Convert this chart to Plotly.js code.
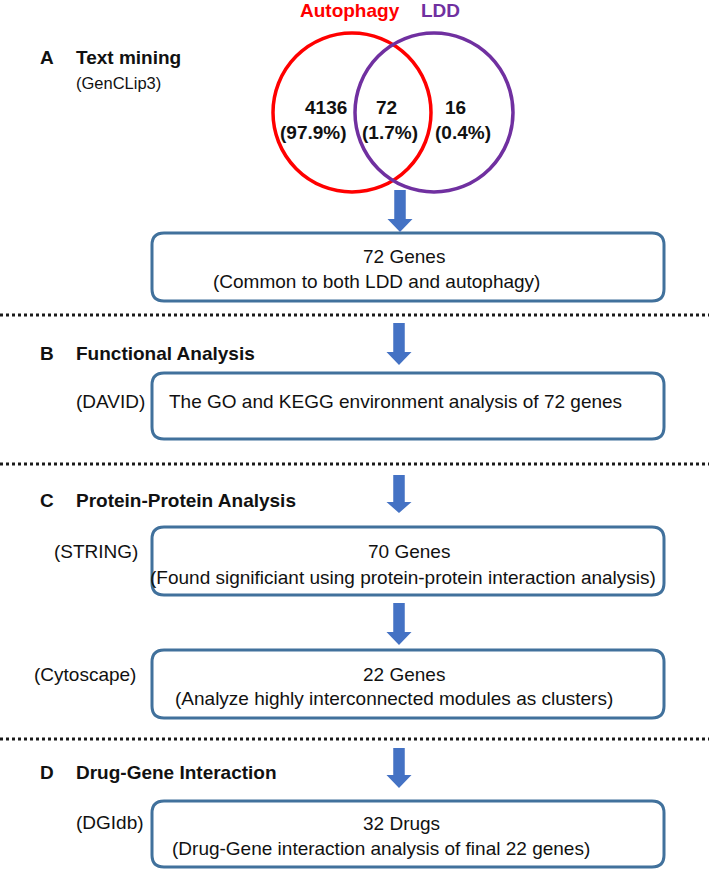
<!DOCTYPE html>
<html>
<head>
<meta charset="utf-8">
<script src="https://cdn.plot.ly/plotly-3.0.1.min.js"></script>
<style>
  html, body { margin: 0; padding: 0; background: #ffffff; }
  #chart { width: 709px; height: 870px; }
</style>
</head>
<body>
<div id="chart"></div>
<script>
// ---------------- data ----------------
const vennSets = ['Autophagy', 'LDD'];
const vennCounts = [4136, 72, 16];          // autophagy only, both, LDD only
const vennPercents = [97.9, 1.7, 0.4];
const sectionLetters = ['A', 'B', 'C', 'D'];
const sectionTitles = ['Text mining', 'Functional Analysis', 'Protein-Protein Analysis', 'Drug-Gene Interaction'];
const sourceTool = '(GenCLip3)';
const stepTools = ['', '(DAVID)', '(STRING)', '(Cytoscape)', '(DGIdb)'];
const stepHeads = ['72 Genes', 'The GO and KEGG environment analysis of 72 genes', '70 Genes', '22 Genes', '32 Drugs'];
const stepNotes = ['(Common to both LDD and autophagy)', '', '(Found significiant using protein-protein interaction analysis)',
                   '(Analyze highly interconnected modules as clusters)', '(Drug-Gene interaction analysis of final 22 genes)'];

// ---------------- layout geometry (pixel-like coordinate system) ----------------
const W = 709, H = 870;
const FONT = 'Liberation Sans, Arial, Helvetica, sans-serif';
const TXT = '#111111';
const vennColors = ['#FF0000', '#7030A0'];
const vennCircles = [[273, 33, 431, 192], [355, 33, 513, 192]];
const vennLabelPos = [[350, 10], [440, 10]];
const vennCountX = [326, 386, 455];
const vennPctX = [313, 390, 463];
const vennCountY = 107, vennPctY = 132;

const sectionY = [57, 353, 500, 772];
const dividerY = [315, 464, 739];

const boxX0 = 152, boxX1 = 664, boxR = 12;
const boxTop = [233, 373, 527, 650, 801];
const boxBot = [301, 439, 595, 718, 867];
const headPos = [[404, 256], [167, 401], [409, 551], [404, 674], [401, 823]];
const notePos = [[376, 281], null, [403, 577], [394, 698], [381, 848]];
const toolPos = [null, [147, 401], [140, 551], [138, 674], [146, 822]];

const arrows = [ // x, top, headStart, tip
  [400, 190, 219, 232], [399, 323, 352, 365], [399, 475, 502, 513], [399, 603, 632, 645], [399, 748, 775, 788]
];
const ARROW = '#4472C4', BOX = '#41719C';

// ---------------- build ----------------
const shapes = [];
const annotations = [];

function ann(text, x, y, size, opts) {
  annotations.push(Object.assign({
    text: text, x: x, y: y, xref: 'x', yref: 'y', showarrow: false,
    xanchor: 'center', yanchor: 'middle',
    font: { family: FONT, size: size, color: TXT }
  }, opts || {}));
}

// Venn diagram
vennCircles.forEach((c, i) => {
  shapes.push({ type: 'circle', xref: 'x', yref: 'y', x0: c[0], y0: c[1], x1: c[2], y1: c[3],
    line: { color: vennColors[i], width: 3.5 }, fillcolor: 'rgba(0,0,0,0)' });
  ann('<b>' + vennSets[i] + '</b>', vennLabelPos[i][0], vennLabelPos[i][1], 19,
      { font: { family: FONT, size: 19, color: vennColors[i] } });
});
vennCounts.forEach((v, i) => {
  ann('<b>' + v + '</b>', vennCountX[i], vennCountY, 19);
  ann('<b>(' + vennPercents[i].toFixed(1) + '%)</b>', vennPctX[i], vennPctY, 19);
});

// Section headings
sectionLetters.forEach((l, i) => {
  ann('<b>' + l + '</b>', 47, sectionY[i], 19);
  ann('<b>' + sectionTitles[i] + '</b>', 74, sectionY[i], 19, { xanchor: 'left' });
});
ann(sourceTool, 74, 83, 16.5, { xanchor: 'left' });

// Dotted dividers
dividerY.forEach(y => {
  shapes.push({ type: 'line', xref: 'x', yref: 'y', x0: 0, x1: W, y0: y, y1: y,
    line: { color: '#1a1a1a', width: 3, dash: '3px,3px' } });
});

// Boxes
function roundRect(x0, y0, x1, y1, r) {
  return 'M' + (x0 + r) + ',' + y0 + ' L' + (x1 - r) + ',' + y0 + ' Q' + x1 + ',' + y0 + ' ' + x1 + ',' + (y0 + r) +
    ' L' + x1 + ',' + (y1 - r) + ' Q' + x1 + ',' + y1 + ' ' + (x1 - r) + ',' + y1 +
    ' L' + (x0 + r) + ',' + y1 + ' Q' + x0 + ',' + y1 + ' ' + x0 + ',' + (y1 - r) +
    ' L' + x0 + ',' + (y0 + r) + ' Q' + x0 + ',' + y0 + ' ' + (x0 + r) + ',' + y0 + ' Z';
}
stepHeads.forEach((h, i) => {
  shapes.push({ type: 'path', xref: 'x', yref: 'y', path: roundRect(boxX0, boxTop[i], boxX1, boxBot[i], boxR),
    line: { color: BOX, width: 3 }, fillcolor: 'rgba(255,255,255,0)' });
  ann(h, headPos[i][0], headPos[i][1], 19, i === 1 ? { xanchor: 'left' } : {});
  if (stepNotes[i]) ann(stepNotes[i], notePos[i][0], notePos[i][1], 19);
  if (stepTools[i]) ann(stepTools[i], toolPos[i][0], toolPos[i][1], 19, { xanchor: 'right' });
});

// Arrows
arrows.forEach(a => {
  const [x, t, h, tip] = a, sw = 5.75, hw = 12.5;
  shapes.push({ type: 'path', xref: 'x', yref: 'y',
    path: 'M' + (x - sw) + ',' + t + ' L' + (x + sw) + ',' + t + ' L' + (x + sw) + ',' + h + ' L' + (x + hw) + ',' + h +
          ' L' + x + ',' + tip + ' L' + (x - hw) + ',' + h + ' L' + (x - sw) + ',' + h + ' Z',
    fillcolor: ARROW, line: { width: 0 } });
});

const layout = {
  width: W, height: H,
  margin: { l: 0, r: 0, t: 0, b: 0 },
  paper_bgcolor: '#ffffff', plot_bgcolor: '#ffffff',
  xaxis: { range: [0, W], visible: false, fixedrange: true },
  yaxis: { range: [H, 0], visible: false, fixedrange: true },
  showlegend: false,
  shapes: shapes,
  annotations: annotations
};

Plotly.newPlot('chart', [], layout, { staticPlot: true, displayModeBar: false });
</script>
</body>
</html>
